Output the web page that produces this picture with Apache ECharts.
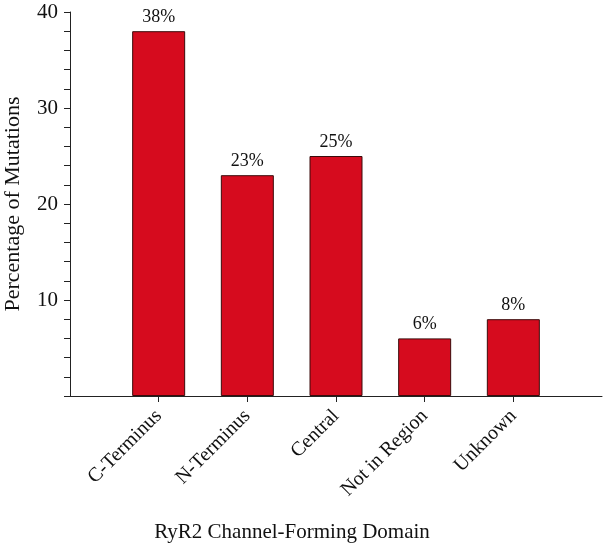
<!DOCTYPE html>
<html>
<head>
<meta charset="utf-8">
<script src="https://cdn.jsdelivr.net/npm/echarts@6/dist/echarts.min.js"></script>
<style>html,body{margin:0;padding:0;background:#fff}#c{width:606px;height:546px}</style>
</head>
<body>
<div id="c"></div>
<script>
// Data
const categories = ['', 'C-Terminus', 'N-Terminus', 'Central', 'Not in Region', 'Unknown', ''];
const values = ['-', 38, 23, 25, 6, 8, '-'];
const yTicks = [10, 20, 30, 40];
const xTitle = 'RyR2 Channel-Forming Domain';
const yTitle = 'Percentage of Mutations';

const FONT = "'Liberation Serif', 'Times New Roman', serif";
const chart = echarts.init(document.getElementById('c'), null, {renderer: 'canvas'});
chart.setOption({
  animation: false,
  backgroundColor: '#fff',
  grid: {left: 70, right: 4, top: 12, bottom: 150, containLabel: false, outerBoundsMode: 'none'},
  xAxis: {
    type: 'category',
    data: categories,
    boundaryGap: false,
    axisLine: {lineStyle: {color: '#222', width: 1}},
    axisTick: {show: true, length: 6, lineStyle: {color: '#222'},
      interval: function (i) { return i > 0 && i < categories.length - 1; }},
    axisLabel: {rotate: 45, fontFamily: FONT, fontSize: 20, color: '#111', margin: 17, interval: 0},
    splitLine: {show: false}
  },
  yAxis: {
    type: 'value',
    min: 0, max: 40, interval: 10,
    name: yTitle,
    nameLocation: 'middle',
    nameGap: 46,
    nameTextStyle: {fontFamily: FONT, fontSize: 22, color: '#111'},
    axisLine: {show: true, lineStyle: {color: '#222', width: 1}},
    axisTick: {show: true, length: 6, lineStyle: {color: '#222'}},
    minorTick: {show: true, splitNumber: 5, length: 6, lineStyle: {color: '#222'}},
    axisLabel: {fontFamily: FONT, fontSize: 21, color: '#111', margin: 12,
      formatter: function (v) { return yTicks.indexOf(v) >= 0 ? String(v) : ''; }},
    splitLine: {show: false}
  },
  graphic: [{
    type: 'text', x: 292, y: 532,
    style: {text: xTitle, fontFamily: FONT, fontSize: 21, fill: '#111', textAlign: 'center', textVerticalAlign: 'middle'}
  }],
  series: [{
    type: 'bar',
    data: values,
    barWidth: 53,
    itemStyle: {color: '#d60b1e', borderColor: '#3b0b0b', borderWidth: 1},
    label: {show: true, position: 'top', distance: 5, fontFamily: FONT, fontSize: 18, color: '#111',
      formatter: function (p) { return p.value + '%'; }}
  }]
});
</script>
</body>
</html>
